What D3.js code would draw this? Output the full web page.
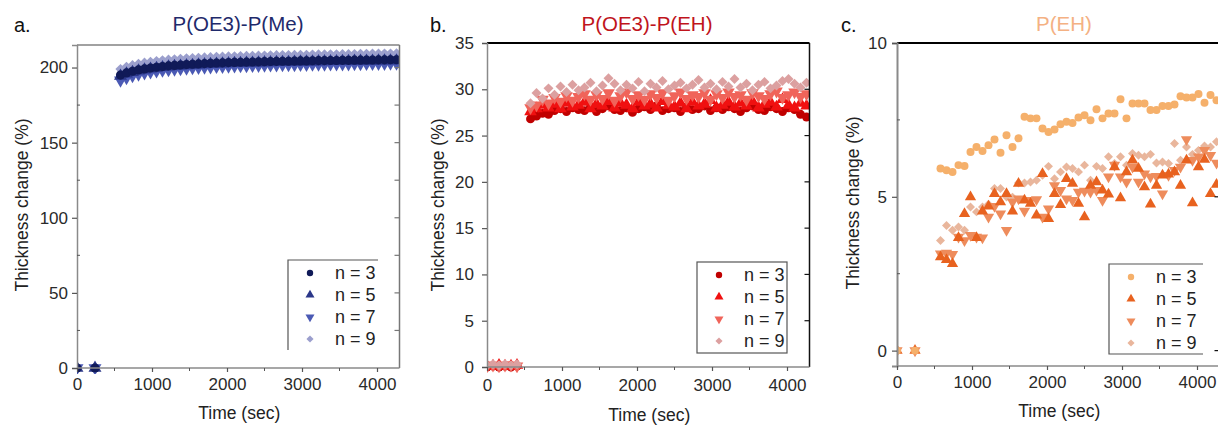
<!DOCTYPE html>
<html><head><meta charset="utf-8">
<script src="https://cdn.jsdelivr.net/npm/d3@7"></script>
<style>body{margin:0;background:#fff}svg{display:block}text{font-family:"Liberation Sans",Arial,sans-serif}</style>
</head><body><svg id="c" width="1218" height="427"></svg>
<script>
// ---------- DATA ----------
const seriesNames = ["n = 3", "n = 5", "n = 7", "n = 9"];
const xTicks = [0, 1000, 2000, 3000, 4000];
const xMinorTicks = [500, 1500, 2500, 3500];

const mainTimes = [580,660,740,820,900,980,1060,1140,1220,1300,1380,1460,1540,1620,1700,1780,1860,1940,2020,2100,2180,2260,2340,2420,2500,2580,2660,2740,2820,2900,2980,3060,3140,3220,3300,3380,3460,3540,3620,3700,3780,3860,3940,4020,4100,4180,4260];

// Panel a: P(OE3)-P(Me)
const timesA_early = [0, 240];
const a_early = [0, 0];
const a3 = [195.0,196.4,197.5,198.4,199.1,199.7,200.2,200.7,201.1,201.4,201.7,202.0,202.2,202.4,202.6,202.8,203.0,203.1,203.3,203.4,203.5,203.6,203.7,203.8,203.9,204.0,204.1,204.2,204.2,204.3,204.4,204.4,204.5,204.6,204.6,204.7,204.7,204.8,204.8,204.9,204.9,205.0,205.0,205.1,205.1,205.2,205.2];
const a5 = [194.3,195.8,196.9,197.8,198.5,199.1,199.6,200.1,200.5,200.8,201.1,201.4,201.6,201.8,202.0,202.2,202.4,202.5,202.7,202.8,202.9,203.0,203.1,203.2,203.3,203.4,203.5,203.6,203.6,203.7,203.8,203.8,203.9,204.0,204.0,204.1,204.1,204.2,204.2,204.3,204.3,204.4,204.4,204.5,204.5,204.6,204.6];
const a7 = [191.5,193.2,194.5,195.5,196.3,197.0,197.6,198.1,198.5,198.9,199.2,199.5,199.8,200.0,200.2,200.4,200.6,200.7,200.9,201.0,201.1,201.2,201.3,201.4,201.5,201.6,201.7,201.8,201.8,201.9,202.0,202.0,202.1,202.2,202.2,202.3,202.3,202.4,202.4,202.5,202.5,202.6,202.6,202.7,202.7,202.8,202.8];
const a9 = [199.0,200.5,201.6,202.5,203.2,203.8,204.3,204.8,205.2,205.5,205.8,206.1,206.3,206.5,206.7,206.9,207.1,207.2,207.4,207.5,207.6,207.7,207.8,207.9,208.0,208.1,208.2,208.3,208.3,208.4,208.5,208.5,208.6,208.7,208.7,208.8,208.8,208.9,208.9,209.0,209.1,209.1,209.2,209.2,209.3,209.3,209.4];
const yTicksA = [0, 50, 100, 150, 200];
const yMinorA = [25, 75, 125, 175];

// Panel b: P(OE3)-P(EH)
const timesB_early = [0, 80, 160, 240, 320, 400];
const b3_early = [0.0, 0.1, 0.0, 0.1, 0.0, 0.1];
const b5_early = [0.1, 0.1, 0.2, 0.1, 0.1, 0.2];
const b7_early = [0.1, 0.2, 0.1, 0.2, 0.2, 0.1];
const b9_early = [0.2, 0.3, 0.2, 0.3, 0.2, 0.3];
const b3 = [26.8,27.1,27.4,27.3,27.7,27.9,27.6,28.0,27.8,27.7,28.1,27.6,27.9,28.2,27.8,27.7,28.0,27.5,27.9,28.1,27.8,28.2,27.7,27.9,28.0,27.6,28.1,27.8,27.9,28.2,27.7,28.0,27.8,28.1,27.9,27.6,28.0,28.2,27.8,27.7,28.1,27.9,27.6,28.0,27.8,27.3,27.0];
const b5 = [27.6,27.9,28.3,28.0,28.4,27.9,28.5,28.1,28.3,28.6,27.9,28.4,28.2,28.7,28.0,28.5,28.3,27.9,28.6,28.2,28.4,28.0,28.7,28.3,28.1,28.5,27.9,28.6,28.2,28.4,28.8,28.0,28.3,28.6,28.1,28.5,28.2,28.7,28.0,28.4,28.6,28.1,28.9,28.3,28.0,28.5,28.2];
const b7 = [28.0,28.3,28.9,28.5,29.1,28.7,29.3,28.8,29.2,29.5,28.9,29.4,29.0,29.6,28.8,29.3,29.7,29.0,29.4,28.9,29.5,29.1,29.6,28.8,29.3,29.7,29.0,29.4,29.2,29.6,28.9,29.5,29.1,29.7,29.2,29.4,28.9,29.6,29.3,29.0,29.5,29.8,29.1,29.4,29.7,29.2,29.5];
const b9 = [28.5,29.6,29.0,30.1,29.4,30.3,29.7,30.5,29.9,30.2,30.7,29.8,30.4,31.2,30.6,29.9,30.5,30.1,30.8,29.8,30.6,30.2,30.9,30.0,30.4,30.7,30.1,30.5,31.0,30.2,30.6,30.0,30.8,30.3,31.1,30.2,30.6,29.9,30.5,30.8,30.1,30.4,30.9,31.1,30.6,30.2,30.7];
const yTicksB = [0, 5, 10, 15, 20, 25, 30, 35];

// Panel c: P(EH)
const timesC_early = [0, 240];
const c_early = [0, 0];
const c3 = [5.92,5.86,5.81,6.03,6.00,6.46,6.62,6.49,6.68,6.86,6.43,7.00,6.62,6.90,7.60,7.55,7.55,7.22,7.11,7.19,7.36,7.44,7.40,7.58,7.65,7.49,7.85,7.55,7.71,7.71,8.17,7.55,8.03,8.03,8.03,7.82,7.82,7.95,7.95,8.00,8.27,8.23,8.23,8.34,8.06,8.31,8.14];
const c5 = [3.04,2.95,2.82,3.67,4.45,4.99,3.67,4.53,4.69,5.10,4.83,5.10,4.53,5.43,4.89,4.78,4.40,5.75,4.29,5.10,4.74,5.59,5.43,4.78,4.34,5.37,5.48,5.21,5.08,5.97,4.96,5.81,6.19,5.92,5.32,4.76,5.37,5.70,5.73,5.81,5.37,6.19,4.80,5.97,6.21,5.10,5.40];
const c7 = [3.15,3.17,3.13,3.69,3.58,3.75,3.69,3.67,4.34,4.69,4.45,3.91,4.83,4.94,4.54,4.89,4.91,4.34,4.61,5.37,5.21,4.94,4.89,5.16,5.19,5.16,5.21,4.89,5.65,6.03,5.65,5.48,5.97,5.48,5.75,5.65,5.67,5.10,5.70,5.86,5.97,6.86,6.19,6.30,6.51,6.35,6.10];
const c9 = [3.58,4.07,3.91,4.02,3.91,4.67,4.51,4.67,4.76,5.27,5.27,4.99,4.99,5.45,5.45,5.48,5.54,5.70,5.99,5.59,5.81,5.97,5.92,5.81,6.03,5.54,5.99,5.92,6.30,6.08,6.30,6.03,6.41,6.35,6.30,6.38,6.10,6.13,6.08,6.73,6.19,6.62,6.38,6.51,6.65,6.62,6.79];
const yTicksC = [0, 5, 10];
const yMinorC = [2.5, 7.5];

// ---------- DRAW ----------
const svg = d3.select("#c");
const FONT = '"Liberation Sans", Arial, sans-serif';
const shapes = ["circle", "up", "down", "diamond"];

function symPath(shape, s) {
  if (shape === "circle") return d3.symbol(d3.symbolCircle, s)();
  if (shape === "up" || shape === "down") return d3.symbol(d3.symbolTriangle, s * 1.1)();
  return d3.symbol(d3.symbolSquare, s * 0.8)();
}
function symTransform(shape) {
  if (shape === "down") return " rotate(180)";
  if (shape === "diamond") return " rotate(45)";
  return "";
}

function panel(cfg) {
  const x = d3.scaleLinear().domain([0, 4300]).range([cfg.x0, cfg.x0 + 322.5]);
  const y = d3.scaleLinear().domain(cfg.yDomain).range([cfg.yBottom, cfg.yTop]);
  const g = svg.append("g");
  const clipId = "clip" + cfg.id;
  svg.append("clipPath").attr("id", clipId).append("rect")
    .attr("x", x.range()[0]).attr("y", cfg.yTop - 6)
    .attr("width", x.range()[1] - x.range()[0]).attr("height", cfg.yBottom - cfg.yTop + 12);

  const pg = g.append("g").attr("clip-path", `url(#${clipId})`);
  cfg.order.forEach(k => {
    const s = cfg.series[k];
    const pts = s.times.map((t, i) => [t, s.values[i]]);
    pg.append("g").selectAll("path").data(pts).join("path")
      .attr("d", symPath(shapes[k], cfg.msize))
      .attr("transform", d => `translate(${x(d[0])},${y(d[1])})` + symTransform(shapes[k]))
      .attr("fill", cfg.colors[k]);
  });

  const [xl, xr] = x.range();
  g.append("line").attr("x1", xl).attr("x2", xr).attr("y1", cfg.yTop).attr("y2", cfg.yTop)
    .attr("stroke", cfg.topColor).attr("stroke-width", cfg.topWidth);
  g.append("line").attr("x1", xr).attr("x2", xr).attr("y1", cfg.yTop).attr("y2", cfg.yBottom)
    .attr("stroke", cfg.rightColor).attr("stroke-width", cfg.rightWidth);

  g.append("g").selectAll("line").data(cfg.rightTicks).join("line")
    .attr("x1", xr).attr("x2", xr - 5).attr("y1", d => y(d)).attr("y2", d => y(d))
    .attr("stroke", cfg.rightColor).attr("stroke-width", 1.2);

  const la = g.append("g").attr("transform", `translate(${xl},0)`)
    .call(d3.axisLeft(y).tickValues(cfg.yTicks).tickSize(5).tickPadding(cfg.yPad).tickFormat(d3.format("d")));
  la.select(".domain").attr("stroke", "#8a8a8a").attr("stroke-width", cfg.leftWidth);
  la.selectAll(".tick line").attr("stroke", "#555").attr("stroke-width", 1.2);
  la.selectAll("text").attr("font-size", 17).attr("fill", "#2a2a2a").attr("font-family", FONT);
  if (cfg.yMinor.length) {
    g.append("g").selectAll("line").data(cfg.yMinor).join("line")
      .attr("x1", xl).attr("x2", xl + 3).attr("y1", d => y(d)).attr("y2", d => y(d))
      .attr("stroke", "#555").attr("stroke-width", 1);
  }

  const ba = g.append("g").attr("transform", `translate(0,${cfg.yBottom})`)
    .call(d3.axisBottom(x).tickValues(xTicks).tickSize(4).tickPadding(cfg.xPad).tickFormat(d3.format("d")));
  ba.select(".domain").attr("stroke", "#8a8a8a").attr("stroke-width", 1.5).attr("d", `M${xl},0H${xr}`);
  ba.selectAll(".tick line").attr("stroke", "#555").attr("stroke-width", 1.2);
  ba.selectAll("text").attr("font-size", 17).attr("fill", "#2a2a2a").attr("font-family", FONT);
  g.append("g").attr("transform", `translate(0,${cfg.yBottom})`)
    .selectAll("line").data(xMinorTicks).join("line")
    .attr("x1", d => x(d)).attr("x2", d => x(d)).attr("y1", 0).attr("y2", 3)
    .attr("stroke", "#555").attr("stroke-width", 1);

  g.append("text").attr("x", cfg.labelX).attr("y", 32).attr("font-size", 20).attr("fill", "#111").text(cfg.label);
  g.append("text").attr("x", cfg.titleX).attr("y", 31).attr("text-anchor", "middle")
    .attr("font-size", 20.5).attr("fill", cfg.titleColor).text(cfg.title);
  g.append("text").attr("x", (xl + xr) / 2 + 1).attr("y", cfg.xTitleY).attr("text-anchor", "middle")
    .attr("font-size", 17.5).attr("fill", "#222").text("Time (sec)");
  g.append("text").attr("transform", `translate(${cfg.yTitleX},${cfg.yTitleY}) rotate(-90)`)
    .attr("text-anchor", "middle").attr("font-size", 17.5).attr("fill", "#222").text("Thickness change (%)");

  const L = cfg.legend;
  const lg = g.append("g");
  if (L.box === "full") {
    lg.append("rect").attr("x", L.x).attr("y", L.y).attr("width", L.w).attr("height", L.h)
      .attr("fill", "#fff").attr("stroke", "#555").attr("stroke-width", 1.2);
  } else {
    lg.append("rect").attr("x", L.x).attr("y", L.y).attr("width", L.w).attr("height", L.h).attr("fill", "#fff");
    let d = `M${L.x + L.w},${L.y}H${L.x}V${L.y + L.h}`;
    if (L.box === "tlb") d += `H${L.x + L.w}`;
    lg.append("path").attr("d", d).attr("fill", "none").attr("stroke", "#555").attr("stroke-width", 1.2);
  }
  seriesNames.forEach((nm, k) => {
    const cy = L.y + 13 + k * 22;
    lg.append("path").attr("d", symPath(shapes[k], 32))
      .attr("transform", `translate(${L.x + 22},${cy})` + symTransform(shapes[k]))
      .attr("fill", cfg.colors[k]);
    lg.append("text").attr("x", L.x + 47).attr("y", cy).attr("dy", "0.35em")
      .attr("font-size", 18).attr("fill", "#222").text(nm);
  });
}

const tA = timesA_early.concat(mainTimes);
const tB = timesB_early.concat(mainTimes);
const tC = timesC_early.concat(mainTimes);

panel({
  id: "a", x0: 77, yTop: 45, yBottom: 368, yDomain: [0, 215],
  yTicks: yTicksA, yMinor: yMinorA, rightTicks: [25, 50, 75, 100, 125, 150, 175, 200],
  yPad: 4, xPad: 6, msize: 66, order: [3, 2, 1, 0],
  colors: ["#101a58", "#2b3789", "#4b5ab4", "#9b9fcd"],
  series: [
    { times: tA, values: a_early.concat(a3) },
    { times: tA, values: a_early.concat(a5) },
    { times: tA, values: a_early.concat(a7) },
    { times: tA, values: a_early.concat(a9) }
  ],
  topColor: "#444", topWidth: 1.2, rightColor: "#777", rightWidth: 1.5, leftWidth: 1.5,
  label: "a.", labelX: 14, title: "P(OE3)-P(Me)", titleX: 238, titleColor: "#1f2a6b",
  xTitleY: 419, yTitleX: 28, yTitleY: 205,
  legend: { x: 288, y: 260, w: 90, h: 90, box: "tl" }
});

panel({
  id: "b", x0: 487, yTop: 43, yBottom: 367, yDomain: [0, 35],
  yTicks: yTicksB, yMinor: [], rightTicks: [5, 10, 15, 20, 25, 30],
  yPad: 8, xPad: 8, msize: 62, order: [0, 1, 2, 3],
  colors: ["#c00000", "#f01010", "#f0645a", "#dca0a0"],
  series: [
    { times: tB, values: b3_early.concat(b3) },
    { times: tB, values: b5_early.concat(b5) },
    { times: tB, values: b7_early.concat(b7) },
    { times: tB, values: b9_early.concat(b9) }
  ],
  topColor: "#000", topWidth: 2, rightColor: "#111", rightWidth: 1.5, leftWidth: 1.5,
  label: "b.", labelX: 430, title: "P(OE3)-P(EH)", titleX: 647, titleColor: "#c0141c",
  xTitleY: 421, yTitleX: 444, yTitleY: 205,
  legend: { x: 697, y: 262, w: 90, h: 91, box: "full" }
});

panel({
  id: "c", x0: 897, yTop: 43, yBottom: 366, yDomain: [-0.5, 10],
  yTicks: yTicksC, yMinor: yMinorC, rightTicks: [0, 5],
  yPad: 5, xPad: 6, msize: 50, order: [3, 2, 1, 0],
  colors: ["#f5b06b", "#e8621f", "#ee8c5c", "#e9b69c"],
  series: [
    { times: tC, values: c_early.concat(c3) },
    { times: tC, values: c_early.concat(c5) },
    { times: tC, values: c_early.concat(c7) },
    { times: tC, values: c_early.concat(c9) }
  ],
  topColor: "#000", topWidth: 2, rightColor: "#111", rightWidth: 1.5, leftWidth: 2,
  label: "c.", labelX: 841, title: "P(EH)", titleX: 1064, titleColor: "#f4b183",
  xTitleY: 417, yTitleX: 859, yTitleY: 203,
  legend: { x: 1109, y: 264, w: 94, h: 90, box: "tlb" }
});
</script></body></html>
